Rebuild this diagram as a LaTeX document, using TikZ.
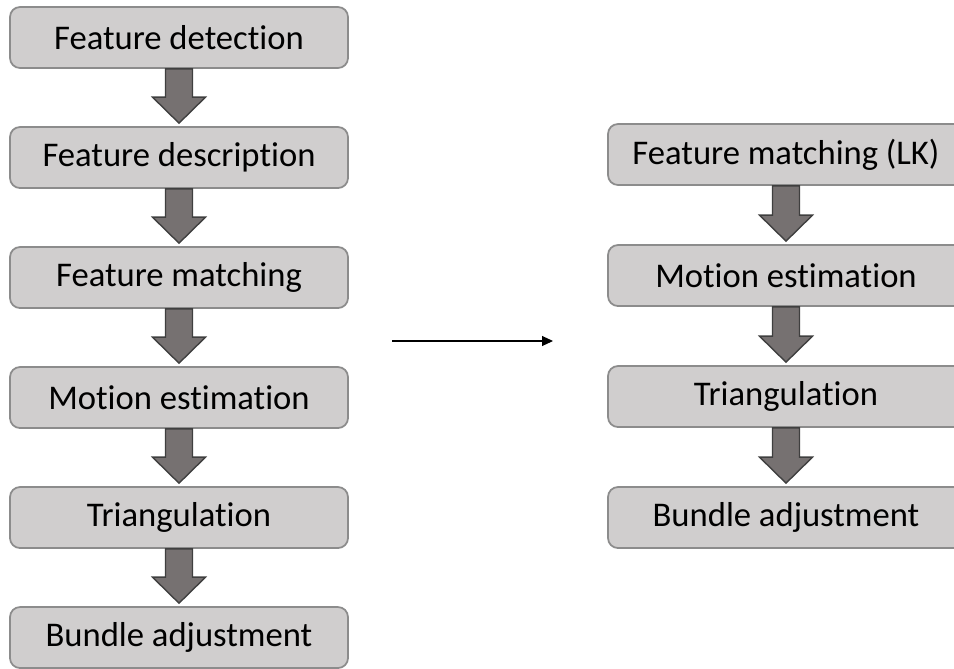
\documentclass[tikz,border=0pt]{standalone}
\usepackage{fontspec}
\setmainfont{Carlito}[Ligatures={NoCommon,NoDiscretionary,NoRare}]
\usetikzlibrary{positioning,calc,arrows.meta}

\definecolor{stagefill}{HTML}{D0CECE}
\definecolor{stageline}{HTML}{8C8C8C}
\definecolor{flowfill}{HTML}{767171}
\definecolor{flowline}{HTML}{3F3F3F}

\tikzset{
	stage/.style={draw=stageline, fill=stagefill, line width=1pt, rounded corners=0.2cm,
		minimum height=1.22cm, inner sep=0pt, font=\fontsize{19.7}{23}\selectfont},
	leftstage/.style={stage, minimum width=6.76cm},
	rightstage/.style={stage, minimum width=7.12cm},
	flowarrow/.style={draw=flowline, fill=flowfill, line width=0.8pt, line join=miter}
}

% block arrow from the bottom of one stage to the top of the next
\newcommand{\stagearrow}[2]{%
	\draw[flowarrow] ($(#1.south)+(-0.27,0)$) -- ($(#2.north)+(-0.27,0.58)$)
		-- ($(#2.north)+(-0.53,0.58)$) -- ($(#2.north)+(0,0.06)$)
		-- ($(#2.north)+(0.53,0.58)$) -- ($(#2.north)+(0.27,0.58)$)
		-- ($(#1.south)+(0.27,0)$) -- cycle;}

\begin{document}
\begin{tikzpicture}
	\clip (0,0) rectangle (19.08,-13.36);
	\useasboundingbox (0,0) rectangle (19.08,-13.36);

	% left pipeline
	\node[leftstage] (detect) at (3.58,-0.75) {Feature detection};
	\node[leftstage, below=1.145cm of detect] (describe) {Feature description};
	\node[leftstage, below=1.145cm of describe] (match) {Feature matching};
	\node[leftstage, below=1.145cm of match] (motion) {Motion estimation};
	\node[leftstage, below=1.145cm of motion] (triang) {Triangulation};
	\node[leftstage, below=1.145cm of triang] (bundle) {Bundle adjustment};
	\stagearrow{detect}{describe}
	\stagearrow{describe}{match}
	\stagearrow{match}{motion}
	\stagearrow{motion}{triang}
	\stagearrow{triang}{bundle}

	% right pipeline
	\node[rightstage] (lk) at (15.72,-3.09) {Feature matching (LK)};
	\node[rightstage, below=1.165cm of lk] (motionR) {Motion estimation};
	\node[rightstage, below=1.165cm of motionR] (triangR) {Triangulation};
	\node[rightstage, below=1.165cm of triangR] (bundleR) {Bundle adjustment};
	\stagearrow{lk}{motionR}
	\stagearrow{motionR}{triangR}
	\stagearrow{triangR}{bundleR}

	% between the two
	\coordinate (from) at (7.84,-6.82);
	\coordinate (to) at (11.06,-6.82);
	\draw[line width=0.6pt, -{Triangle[length=0.22cm, width=0.2cm]}] (from) -- (to);
\end{tikzpicture}
\end{document}
